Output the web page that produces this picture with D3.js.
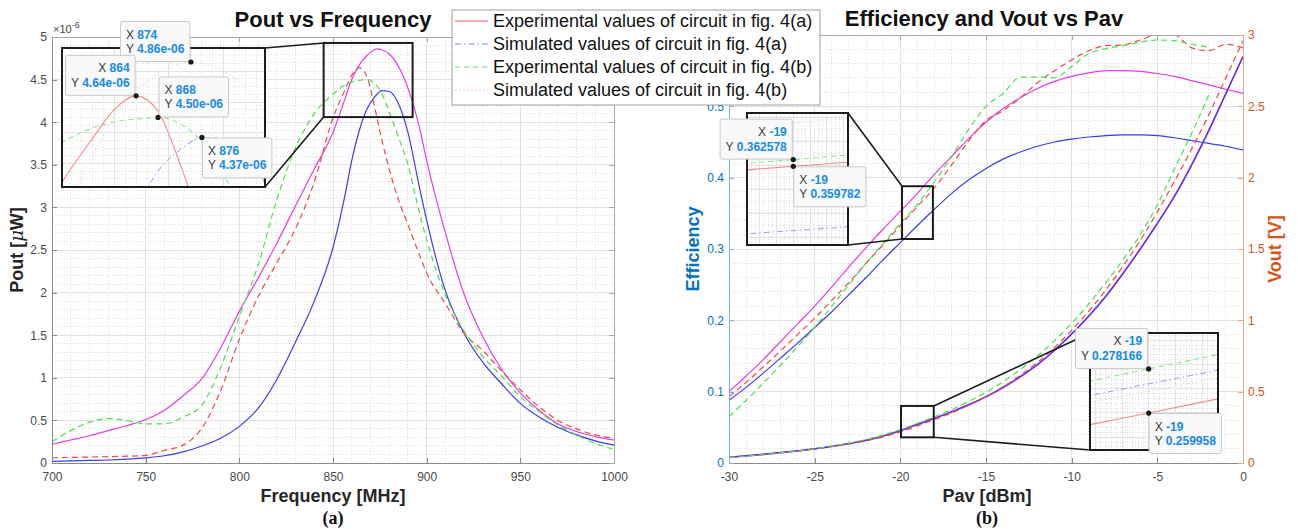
<!DOCTYPE html>
<html><head><meta charset="utf-8">
<script src="https://cdn.jsdelivr.net/npm/d3@7"></script>
<style>
html,body{margin:0;padding:0;background:#fff;}
svg{display:block;}
</style></head>
<body>
<svg id="chart" width="1298" height="529"></svg>
<script>
// ================= DATA =================
// (a) Pout vs Frequency  (values in µW)
const freq = [700,710,720,730,740,750,760,770,780,790,800,810,820,830,840,850,856,860,864,868,872,874,876,880,884,890,896,900,910,920,930,940,950,960,970,980,990,1000];
const powExpA = [0.06,0.065,0.07,0.075,0.08,0.09,0.15,0.21,0.41,0.85,1.45,1.95,2.35,2.75,3.30,4.05,4.36,4.55,4.64,4.54,4.20,4.00,3.80,3.45,3.15,2.80,2.45,2.23,1.87,1.52,1.32,1.08,0.86,0.66,0.50,0.40,0.33,0.29];
const powSimA = [0.02,0.025,0.03,0.035,0.045,0.06,0.085,0.13,0.20,0.29,0.43,0.64,0.98,1.42,1.90,2.53,3.10,3.55,3.90,4.15,4.29,4.34,4.37,4.36,4.26,3.88,3.25,2.85,2.02,1.52,1.18,0.93,0.70,0.54,0.42,0.33,0.26,0.21];
const powExpB = [0.25,0.38,0.48,0.52,0.50,0.46,0.46,0.54,0.68,1.12,1.72,2.32,3.09,3.70,4.10,4.33,4.43,4.47,4.49,4.50,4.46,4.41,4.34,4.12,3.88,3.50,2.95,2.62,1.97,1.55,1.25,1.02,0.78,0.60,0.45,0.33,0.23,0.16];
const powSimB = [0.22,0.27,0.32,0.38,0.44,0.51,0.62,0.79,0.99,1.35,1.78,2.17,2.58,3.02,3.45,3.88,4.25,4.50,4.67,4.78,4.85,4.86,4.85,4.80,4.69,4.40,3.95,3.55,2.70,1.98,1.48,1.10,0.82,0.62,0.46,0.37,0.31,0.27];
const freqTicks = [700,750,800,850,900,950,1000];
const powTicks = [0,0.5,1,1.5,2,2.5,3,3.5,4,4.5,5];
const tipFreq = [874,864,868,876];
const tipPow = [4.86,4.64,4.50,4.37];

// (b) Efficiency and Vout vs Pav
const pav = [-30,-29,-28,-27,-26,-25,-24,-23,-22,-21,-20,-19,-18,-17,-16,-15,-14,-13,-12,-11,-10,-9,-8,-7,-6,-5,-4,-3,-2,-1,0];
const effExpA = [0.093,0.113,0.135,0.157,0.180,0.203,0.228,0.253,0.280,0.306,0.333,0.359782,0.386,0.418,0.452,0.480,0.494,0.512,0.533,0.550,0.565,0.578,0.585,0.586,0.593,0.600,0.600,0.582,0.578,0.587,0.582];
const effSimA = [0.088,0.106,0.126,0.147,0.168,0.190,0.212,0.236,0.260,0.285,0.309,0.333,0.356,0.378,0.397,0.413,0.426,0.436,0.444,0.450,0.454,0.457,0.459,0.460,0.460,0.459,0.456,0.452,0.448,0.444,0.439];
const effExpB = [0.065,0.088,0.112,0.137,0.163,0.190,0.220,0.250,0.280,0.308,0.336,0.362578,0.395,0.430,0.468,0.500,0.518,0.541,0.541,0.540,0.556,0.574,0.581,0.585,0.590,0.593,0.592,0.587,0.583,null,null];
const effSimB = [0.100,0.122,0.145,0.170,0.195,0.220,0.247,0.275,0.302,0.328,0.353,0.378,0.405,0.430,0.455,0.478,0.497,0.512,0.525,0.535,0.542,0.547,0.550,0.550,0.549,0.546,0.542,0.536,0.530,0.524,0.518];
const voutExpA = [0.038,0.048,0.058,0.070,0.083,0.098,0.114,0.132,0.155,0.183,0.218,0.259958,0.305,0.352,0.405,0.465,0.535,0.615,0.705,0.810,0.930,1.065,1.215,1.380,1.560,1.760,1.975,2.200,2.440,2.700,2.960];
const voutSimA = [0.040,0.050,0.061,0.073,0.086,0.100,0.117,0.136,0.160,0.190,0.228,0.272,0.315,0.360,0.410,0.465,0.530,0.605,0.690,0.790,0.905,1.030,1.170,1.330,1.500,1.680,1.870,2.090,2.330,2.590,2.850];
const voutExpB = [0.038,0.048,0.059,0.071,0.085,0.100,0.118,0.140,0.165,0.196,0.234,0.278166,0.325,0.375,0.432,0.497,0.570,0.655,0.750,0.858,0.980,1.115,1.265,1.425,1.600,1.810,2.060,2.310,2.580,null,null];
const voutSimB = [0.040,0.050,0.060,0.072,0.085,0.099,0.116,0.135,0.158,0.188,0.226,0.269,0.312,0.357,0.407,0.462,0.527,0.602,0.688,0.788,0.903,1.028,1.168,1.328,1.498,1.678,1.868,2.088,2.328,2.588,2.848];
const pavTicks = [-30,-25,-20,-15,-10,-5,0];
const effTicks = [0,0.1,0.2,0.3,0.4,0.5,0.6];
const effTickLabels = ["0","0.1","0.2","0.3","0.4","0.5",""];   // 0.6 is hidden under the legend in the reference
const voutTicks = [0,0.5,1,1.5,2,2.5,3];
const tipPav = -19;
const tipEff = [0.362578,0.359782];
const tipVout = [0.278166,0.259958];

const legendLabels = ["Experimental values of circuit in fig. 4(a)","Simulated values of circuit in fig. 4(a)","Experimental values of circuit in fig. 4(b)","Simulated values of circuit in fig. 4(b)"];

// zoom windows (data coords)
const zoomA = {x:[845,892.5], y:[4.06,4.93]};
const zoomEff = {x:[-19.9,-18.1], y:[0.314,0.388]};
const zoomVout = {x:[-19.96,-18.05], y:[0.18,0.40]};

// ================= LAYOUT / STYLE =================
const FONT = "'Liberation Sans', Arial, Helvetica, sans-serif";
const LA = {x0:52, x1:614, y0:37, y1:463};
const RA = {x0:729, x1:1243, y0:35, y1:463};
const insetA = {x:62, y:48, w:203, h:139};
const insetE = {x:747, y:113, w:101, h:132};
const insetV = {x:1090, y:333, w:128, h:117};

const C = {mag:"#e63ce6", blue:"#3b3bf0", red:"#f04848", green:"#4fdf4f"};
const CI = {red:"#f08a8a", blue:"#9c9cee", green:"#90e690", pink:"#f3c8f3"};
const BLUEAX = "#0072BD", ORANGEAX = "#D95319";
const TIPBLUE = "#1689ea";

const svg = d3.select("#chart");
const defs = svg.append("defs");
function addClip(id, x, y, w, h){
  defs.append("clipPath").attr("id", id).append("rect").attr("x",x).attr("y",y).attr("width",w).attr("height",h);
}

// scales
const xF = d3.scaleLinear().domain([700,1000]).range([LA.x0, LA.x1]);
const yP = d3.scaleLinear().domain([0,5]).range([LA.y1, LA.y0]);
const xP = d3.scaleLinear().domain([-30,0]).range([RA.x0, RA.x1]);
const yE = d3.scaleLinear().domain([0,0.6]).range([RA.y1, RA.y0]);
const yV = d3.scaleLinear().domain([0,3]).range([RA.y1, RA.y0]);

const xIa = d3.scaleLinear().domain([850.5,887.5]).range([insetA.x, insetA.x+insetA.w]);
const yIa = d3.scaleLinear().domain([4.048,4.951]).range([insetA.y+insetA.h, insetA.y]);
const xIe = d3.scaleLinear().domain([-19.055,-18.935]).range([insetE.x, insetE.x+insetE.w]);
const yIe = d3.scaleLinear().domain([0.327,0.382]).range([insetE.y+insetE.h, insetE.y]);
const xIv = d3.scaleLinear().domain([-19.11,-18.87]).range([insetV.x, insetV.x+insetV.w]);
const yIv = d3.scaleLinear().domain([0.2447,0.293]).range([insetV.y+insetV.h, insetV.y]);

// ---------- helpers ----------
function drawGrid(g, xs, ys, xMajor, yMajor, xMinor, yMinor){
  const [x0,x1] = xs.range(); const [y1,y0] = ys.range();
  const gg = g.append("g").attr("shape-rendering","crispEdges");
  gg.selectAll(null).data(xMinor).join("line")
    .attr("x1",d=>xs(d)).attr("x2",d=>xs(d)).attr("y1",y0).attr("y2",y1)
    .attr("stroke","#dcdcdc").attr("stroke-dasharray","1,2");
  gg.selectAll(null).data(yMinor).join("line")
    .attr("y1",d=>ys(d)).attr("y2",d=>ys(d)).attr("x1",x0).attr("x2",x1)
    .attr("stroke","#dcdcdc").attr("stroke-dasharray","1,2");
  gg.selectAll(null).data(xMajor).join("line")
    .attr("x1",d=>xs(d)).attr("x2",d=>xs(d)).attr("y1",y0).attr("y2",y1)
    .attr("stroke","#e2e2e2");
  gg.selectAll(null).data(yMajor).join("line")
    .attr("y1",d=>ys(d)).attr("y2",d=>ys(d)).attr("x1",x0).attr("x2",x1)
    .attr("stroke","#e2e2e2");
}
function drawSeries(g, xs, ys, xArr, list, clipId){
  const gg = g.append("g").attr("clip-path", `url(#${clipId})`);
  list.forEach(s => {
    const pts = xArr.map((x,i)=>[x, s.data[i]]);
    const line = d3.line().defined(d=>d[1]!=null).x(d=>xs(d[0])).y(d=>ys(d[1])).curve(d3.curveMonotoneX);
    gg.append("path").attr("d", line(pts)).attr("fill","none")
      .attr("stroke", s.color).attr("stroke-width", s.w || 1.2)
      .attr("stroke-dasharray", s.dash || null);
  });
}
function styleAxis(sel, lineColor, textColor){
  sel.attr("font-family", FONT).attr("font-size", 12);
  sel.select(".domain").attr("stroke", lineColor);
  sel.selectAll(".tick line").attr("stroke", lineColor);
  sel.selectAll(".tick text").attr("fill", textColor);
  sel.attr("shape-rendering","crispEdges");
}
function dataTip(px, py, xTxt, yTxt, place, align){
  const g = svg.append("g").attr("font-family", FONT).attr("font-size", 12);
  const rect = g.append("rect").attr("fill","#f9f9f9").attr("stroke","#c9c9c9").attr("rx",2);
  const t1 = g.append("text"); t1.append("tspan").attr("fill","#3a3a3a").text("X ");
  t1.append("tspan").attr("fill",TIPBLUE).attr("font-weight","bold").text(xTxt);
  const t2 = g.append("text"); t2.append("tspan").attr("fill","#3a3a3a").text("Y ");
  t2.append("tspan").attr("fill",TIPBLUE).attr("font-weight","bold").text(yTxt);
  const tw = Math.max(t1.node().getComputedTextLength(), t2.node().getComputedTextLength());
  const w = tw + 11, h = 40;
  let bx, by;
  if (place === "nw") { bx = px - w - 1; by = py - h - 0.5; }
  else if (place === "ne") { bx = px + 1; by = py - h - 0.5; }
  else { bx = px + 0.5; by = py + 0.5; }
  rect.attr("x",bx).attr("y",by).attr("width",w).attr("height",h);
  const tx = align === "end" ? bx + w - 5.5 : bx + 5.5;
  t1.attr("x",tx).attr("y",by+17).attr("text-anchor", align);
  t2.attr("x",tx).attr("y",by+31.5).attr("text-anchor", align);
  svg.append("circle").attr("cx",px).attr("cy",py).attr("r",2.6).attr("fill","#1a1a1a");
}
function insetFrame(box, xs, ys, xArr, list, clipId){
  addClip(clipId, box.x, box.y, box.w, box.h);
  svg.append("rect").attr("x",box.x).attr("y",box.y).attr("width",box.w).attr("height",box.h).attr("fill","#fff");
  const g = svg.append("g");
  drawGrid(g, xs, ys, xs.ticks(5), ys.ticks(4), xs.ticks(20), ys.ticks(16));
  drawSeries(g, xs, ys, xArr, list, clipId);
  svg.append("rect").attr("x",box.x).attr("y",box.y).attr("width",box.w).attr("height",box.h)
    .attr("fill","none").attr("stroke","#1c1c1c").attr("stroke-width",2);
}
function connector(x1,y1,x2,y2){
  svg.append("line").attr("x1",x1).attr("y1",y1).attr("x2",x2).attr("y2",y2)
    .attr("stroke","#1c1c1c").attr("stroke-width",1.6);
}
function sourceBox(xs, ys, z){
  const x = xs(z.x[0]), y = ys(z.y[1]);
  svg.append("rect").attr("x",x).attr("y",y).attr("width",xs(z.x[1])-x).attr("height",ys(z.y[0])-y)
    .attr("fill","none").attr("stroke","#1c1c1c").attr("stroke-width",2);
}

// ================= LEFT CHART (a) =================
addClip("clipL", LA.x0, LA.y0, LA.x1-LA.x0, LA.y1-LA.y0);
const gL = svg.append("g");
drawGrid(gL, xF, yP, freqTicks, powTicks, xF.ticks(30), yP.ticks(50));
drawSeries(gL, xF, yP, freq, [
  {data:powSimB, color:C.mag},
  {data:powSimA, color:C.blue},
  {data:powExpA, color:C.red, dash:"6,4"},
  {data:powExpB, color:C.green, dash:"6,4"}
], "clipL");

const fmt = d => String(d);
styleAxis(gL.append("g").attr("transform",`translate(0,${LA.y1})`)
  .call(d3.axisBottom(xF).tickValues(freqTicks).tickSize(-5).tickSizeOuter(0).tickPadding(9).tickFormat(fmt)), "#8a8a8a", "#4a4a4a");
styleAxis(gL.append("g").attr("transform",`translate(${LA.x0},0)`)
  .call(d3.axisLeft(yP).tickValues(powTicks).tickSize(-5).tickSizeOuter(0).tickPadding(5).tickFormat(fmt)), "#8a8a8a", "#4a4a4a");
styleAxis(gL.append("g").attr("transform",`translate(0,${LA.y0})`)
  .call(d3.axisTop(xF).tickValues(freqTicks).tickSize(-5).tickSizeOuter(0).tickFormat(()=>"")), "#a8a8a8", "#4a4a4a");
styleAxis(gL.append("g").attr("transform",`translate(${LA.x1},0)`)
  .call(d3.axisRight(yP).tickValues(powTicks).tickSize(-5).tickSizeOuter(0).tickFormat(()=>"")), "#a8a8a8", "#4a4a4a");

// exponent
const ex = svg.append("text").attr("x",LA.x0+1).attr("y",33).attr("font-family",FONT).attr("font-size",11).attr("fill","#4a4a4a");
ex.append("tspan").text("\u00d710");
ex.append("tspan").attr("dy",-5).attr("font-size",9).text("-6");

// titles / labels
svg.append("text").attr("x",333).attr("y",27).attr("text-anchor","middle").attr("font-family",FONT)
  .attr("font-size",22).attr("font-weight","bold").attr("fill","#111").text("Pout vs Frequency");
svg.append("text").attr("x",333).attr("y",502).attr("text-anchor","middle").attr("font-family",FONT)
  .attr("font-size",18).attr("font-weight","bold").attr("fill","#262626").text("Frequency [MHz]");
svg.append("text").attr("x",333).attr("y",524).attr("text-anchor","middle").attr("font-family","'Liberation Serif', 'Times New Roman', serif")
  .attr("font-size",18).attr("font-weight","bold").attr("fill","#111").text("(a)");
const yl = svg.append("text").attr("transform",`translate(23,${(LA.y0+LA.y1)/2}) rotate(-90)`).attr("text-anchor","middle")
  .attr("font-family",FONT).attr("font-size",18).attr("font-weight","bold").attr("fill","#262626");
yl.append("tspan").text("Pout [");
yl.append("tspan").attr("font-style","italic").attr("font-weight","normal").attr("font-family","'DejaVu Serif', serif").text("\u03bc");
yl.append("tspan").text("W]");

// zoom box + inset (a)
sourceBox(xF, yP, zoomA);
connector(insetA.x+insetA.w, insetA.y, xF(zoomA.x[0]), yP(zoomA.y[1]));
connector(insetA.x+insetA.w, insetA.y+insetA.h, xF(zoomA.x[0]), yP(zoomA.y[0]));
insetFrame(insetA, xIa, yIa, freq, [
  {data:powSimB, color:CI.pink, dash:"1.5,2.5", w:1},
  {data:powSimA, color:CI.blue, dash:"6,3,1.5,3", w:1},
  {data:powExpB, color:CI.green, dash:"5,4", w:1.1},
  {data:powExpA, color:CI.red, w:1.1}
], "clipIa");

const tipPlace = ["nw","nw","ne","se"];
const tipAlign = ["start","end","start","start"];
tipFreq.forEach((f,i)=>{
  dataTip(xIa(f), yIa(tipPow[i]), String(f), tipPow[i].toFixed(2)+"e-06", tipPlace[i], tipAlign[i]);
});

// ================= RIGHT CHART (b) =================
addClip("clipR", RA.x0, RA.y0, RA.x1-RA.x0, RA.y1-RA.y0);
const gR = svg.append("g");
drawGrid(gR, xP, yE, pavTicks, effTicks, xP.ticks(30), yE.ticks(30));
drawSeries(gR, xP, yE, pav, [
  {data:effSimB, color:C.mag},
  {data:effSimA, color:C.blue},
  {data:effExpA, color:C.red, dash:"6,4"},
  {data:effExpB, color:C.green, dash:"6,4"}
], "clipR");
drawSeries(gR, xP, yV, pav, [
  {data:voutSimB, color:C.mag},
  {data:voutSimA, color:"#5a32ee", w:1.5},
  {data:voutExpA, color:C.red, dash:"6,4"},
  {data:voutExpB, color:C.green, dash:"6,4"}
], "clipR");

styleAxis(gR.append("g").attr("transform",`translate(0,${RA.y1})`)
  .call(d3.axisBottom(xP).tickValues(pavTicks).tickSize(-5).tickSizeOuter(0).tickPadding(9).tickFormat(fmt)), "#8a8a8a", "#4a4a4a");
styleAxis(gR.append("g").attr("transform",`translate(0,${RA.y0})`)
  .call(d3.axisTop(xP).tickValues(pavTicks).tickSize(-5).tickSizeOuter(0).tickFormat(()=>"")), "#a8a8a8", "#4a4a4a");
styleAxis(gR.append("g").attr("transform",`translate(${RA.x0},0)`)
  .call(d3.axisLeft(yE).tickValues(effTicks).tickSize(-5).tickSizeOuter(0).tickPadding(5).tickFormat((d,i)=>effTickLabels[i])), "#7fb0da", BLUEAX);
styleAxis(gR.append("g").attr("transform",`translate(${RA.x1},0)`)
  .call(d3.axisRight(yV).tickValues(voutTicks).tickSize(-5).tickSizeOuter(0).tickPadding(5).tickFormat(fmt)), "#e8a888", ORANGEAX);

svg.append("text").attr("x",984).attr("y",26).attr("text-anchor","middle").attr("font-family",FONT)
  .attr("font-size",22).attr("font-weight","bold").attr("fill","#111").text("Efficiency and Vout vs Pav");
svg.append("text").attr("x",987).attr("y",502).attr("text-anchor","middle").attr("font-family",FONT)
  .attr("font-size",18).attr("font-weight","bold").attr("fill","#262626").text("Pav [dBm]");
svg.append("text").attr("x",987).attr("y",524).attr("text-anchor","middle").attr("font-family","'Liberation Serif', 'Times New Roman', serif")
  .attr("font-size",18).attr("font-weight","bold").attr("fill","#111").text("(b)");
svg.append("text").attr("transform",`translate(699,${(RA.y0+RA.y1)/2}) rotate(-90)`).attr("text-anchor","middle")
  .attr("font-family",FONT).attr("font-size",18).attr("font-weight","bold").attr("fill",BLUEAX).text("Efficiency");
svg.append("text").attr("transform",`translate(1281,${(RA.y0+RA.y1)/2}) rotate(-90)`).attr("text-anchor","middle")
  .attr("font-family",FONT).attr("font-size",18).attr("font-weight","bold").attr("fill",ORANGEAX).text("Vout [V]");

// efficiency zoom
sourceBox(xP, yE, zoomEff);
connector(insetE.x+insetE.w, insetE.y, xP(zoomEff.x[0]), yE(zoomEff.y[1]));
connector(insetE.x+insetE.w, insetE.y+insetE.h, xP(zoomEff.x[0]), yE(zoomEff.y[0]));
insetFrame(insetE, xIe, yIe, pav, [
  {data:effSimB, color:CI.pink, dash:"1.5,2.5", w:1},
  {data:effSimA, color:CI.blue, dash:"6,3,1.5,3", w:1},
  {data:effExpB, color:CI.green, dash:"5,4", w:1.1},
  {data:effExpA, color:CI.red, w:1.1}
], "clipIe");

// vout zoom
sourceBox(xP, yV, zoomVout);
connector(xP(zoomVout.x[1]), yV(zoomVout.y[1]), insetV.x, insetV.y);
connector(xP(zoomVout.x[1]), yV(zoomVout.y[0]), insetV.x, insetV.y+insetV.h);
insetFrame(insetV, xIv, yIv, pav, [
  {data:voutSimB, color:CI.pink, dash:"1.5,2.5", w:1},
  {data:voutSimA, color:CI.blue, dash:"6,3,1.5,3", w:1},
  {data:voutExpB, color:CI.green, dash:"5,4", w:1.1},
  {data:voutExpA, color:CI.red, w:1.1}
], "clipIv");

dataTip(xIe(tipPav), yIe(tipEff[0]), String(tipPav), tipEff[0].toFixed(6), "nw", "end");
dataTip(xIe(tipPav), yIe(tipEff[1]), String(tipPav), tipEff[1].toFixed(6), "se", "start");
dataTip(xIv(tipPav), yIv(tipVout[0]), String(tipPav), tipVout[0].toFixed(6), "nw", "end");
dataTip(xIv(tipPav), yIv(tipVout[1]), String(tipPav), tipVout[1].toFixed(6), "se", "start");

// ================= LEGEND =================
const lg = svg.append("g").attr("font-family",FONT).attr("font-size",18);
lg.append("rect").attr("x",452).attr("y",10).attr("width",368).attr("height",95)
  .attr("fill","#fff").attr("stroke","#a0a0a0").attr("stroke-width",1);
const legStyle = [
  {color:"#f06868", dash:null},
  {color:"#8c8ce6", dash:"6,3,1.5,3"},
  {color:"#6ee06e", dash:"5,4"},
  {color:"#f0a6f0", dash:"1.5,2.5"}
];
legendLabels.forEach((t,i)=>{
  const by = 27 + i*23;
  lg.append("line").attr("x1",455).attr("x2",488).attr("y1",by-6).attr("y2",by-6)
    .attr("stroke",legStyle[i].color).attr("stroke-width",1.2).attr("stroke-dasharray",legStyle[i].dash);
  lg.append("text").attr("x",493).attr("y",by).attr("fill","#111").text(t);
});
</script>
</body></html>
